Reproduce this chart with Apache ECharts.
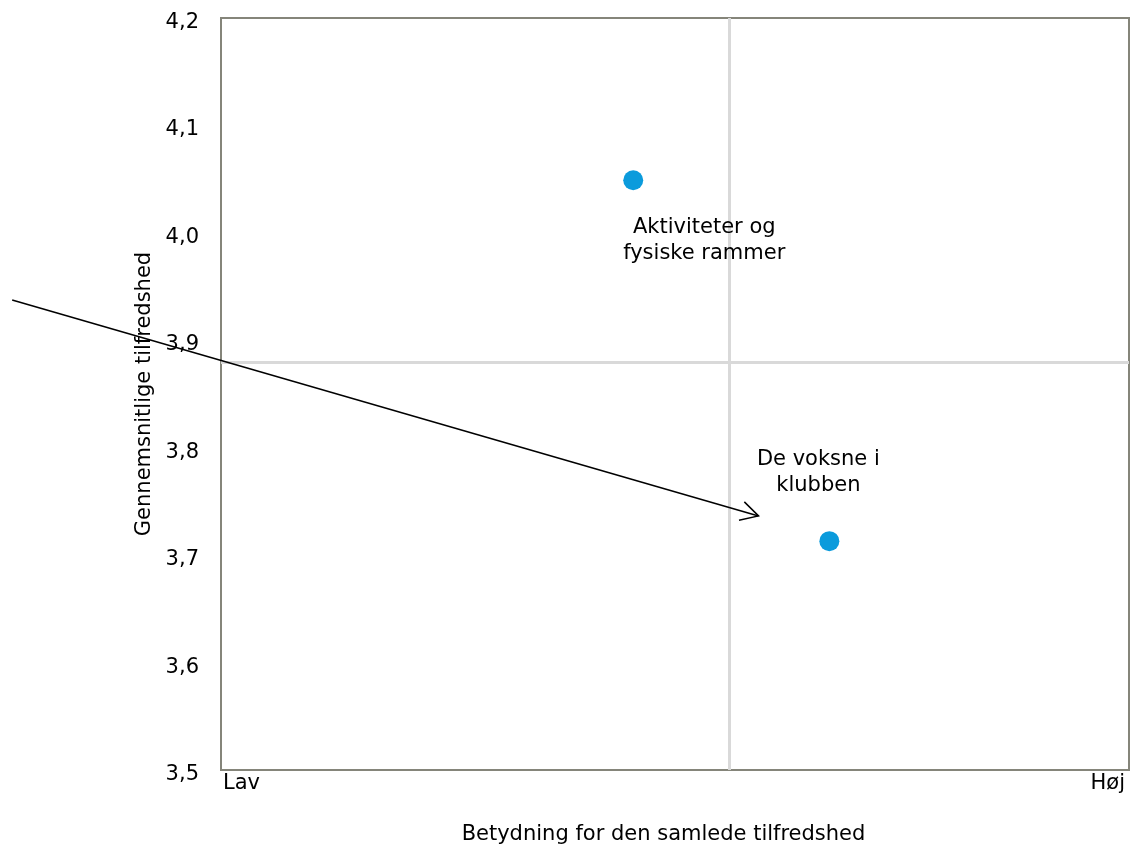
<!DOCTYPE html>
<html><head><meta charset="utf-8">
<script src="https://cdn.jsdelivr.net/npm/echarts@6/dist/echarts.min.js"></script>
<style>html,body{margin:0;padding:0;background:#fff;overflow:hidden}#c{width:1130px;height:845px}</style>
</head><body><div id="c"></div>
<script>
var names = ['Aktiviteter og\nfysiske rammer', 'De voksne i\nklubben'];
var importance = [0.454, 0.670];
var satisfaction = [4.049, 3.713];
var labelOffsets = [[71, 60], [-11, -69]];
var quadrantX = 0.563;
var quadrantY = 3.88;
var xTickLabels = ['Lav', 'Høj'];
var arrowFrom = [-0.23, 3.9375];
var arrowTo = [0.592, 3.7365];

var font = "'DejaVu Sans', Verdana, sans-serif";
var fs = 21;
var chart = echarts.init(document.getElementById('c'));
var data = names.map(function (n, i) {
  return {
    name: n, value: [importance[i], satisfaction[i]],
    label: { offset: labelOffsets[i] }
  };
});
chart.setOption({
  animation: false,
  grid: { left: 221, top: 18, width: 908, height: 752, outerBoundsMode: 'none', containLabel: false,
          show: true, borderColor: '#85857a', borderWidth: 2, backgroundColor: 'transparent' },
  xAxis: {
    type: 'value', min: 0, max: 1, interval: 1,
    name: 'Betydning for den samlede tilfredshed', nameLocation: 'middle', nameGap: 54,
    nameTextStyle: { fontFamily: font, fontSize: fs, color: '#000', padding: [0, 23, 0, 0] },
    axisLine: { show: false }, axisTick: { show: false }, splitLine: { show: false },
    axisLabel: {
      margin: 3, fontFamily: font, fontSize: fs, color: '#000', padding: [0, 4, 0, 2],
      alignMinLabel: 'left', alignMaxLabel: 'right',
      formatter: function (v) { return v === 0 ? xTickLabels[0] : xTickLabels[1]; }
    }
  },
  yAxis: {
    type: 'value', min: 3.5, max: 4.2, interval: 0.1,
    name: 'Gennemsnitlige tilfredshed', nameLocation: 'middle', nameGap: 56,
    nameTextStyle: { fontFamily: font, fontSize: fs, color: '#000' },
    axisLine: { show: false }, axisTick: { show: false }, splitLine: { show: false },
    axisLabel: {
      margin: 22, fontFamily: font, fontSize: fs, color: '#000',
      verticalAlign: 'top', lineHeight: 9,
      formatter: function (v) { return v.toFixed(1).replace('.', ','); }
    }
  },
  series: [{
    type: 'scatter', symbolSize: 20, itemStyle: { color: '#0b9bdc', opacity: 1 },
    data: data,
    label: {
      show: true, position: 'inside', formatter: '{b}',
      fontFamily: font, fontSize: fs, color: '#000', opacity: 1, lineHeight: 26, align: 'center'
    },
    markLine: {
      silent: true, symbol: 'none', label: { show: false },
      lineStyle: { color: '#d9d9d9', width: 3, type: 'solid', opacity: 1 },
      data: [{ xAxis: quadrantX }, { yAxis: quadrantY }],
      z: 1
    },
    z: 5
  }]
});

var p0 = chart.convertToPixel({ gridIndex: 0 }, arrowFrom);
var p1 = chart.convertToPixel({ gridIndex: 0 }, arrowTo);
var ang = Math.atan2(p1[1] - p0[1], p1[0] - p0[0]);
var L = 20, spread = 0.5;
var b1 = [p1[0] - L * Math.cos(ang - spread), p1[1] - L * Math.sin(ang - spread)];
var b2 = [p1[0] - L * Math.cos(ang + spread), p1[1] - L * Math.sin(ang + spread)];
chart.setOption({
  graphic: [
    { type: 'line', z: 100, shape: { x1: p0[0], y1: p0[1], x2: p1[0], y2: p1[1] }, style: { stroke: '#000', lineWidth: 1.5 } },
    { type: 'polyline', z: 100, shape: { points: [b1, p1, b2] }, style: { stroke: '#000', lineWidth: 1.5, fill: null } }
  ]
});
</script></body></html>
